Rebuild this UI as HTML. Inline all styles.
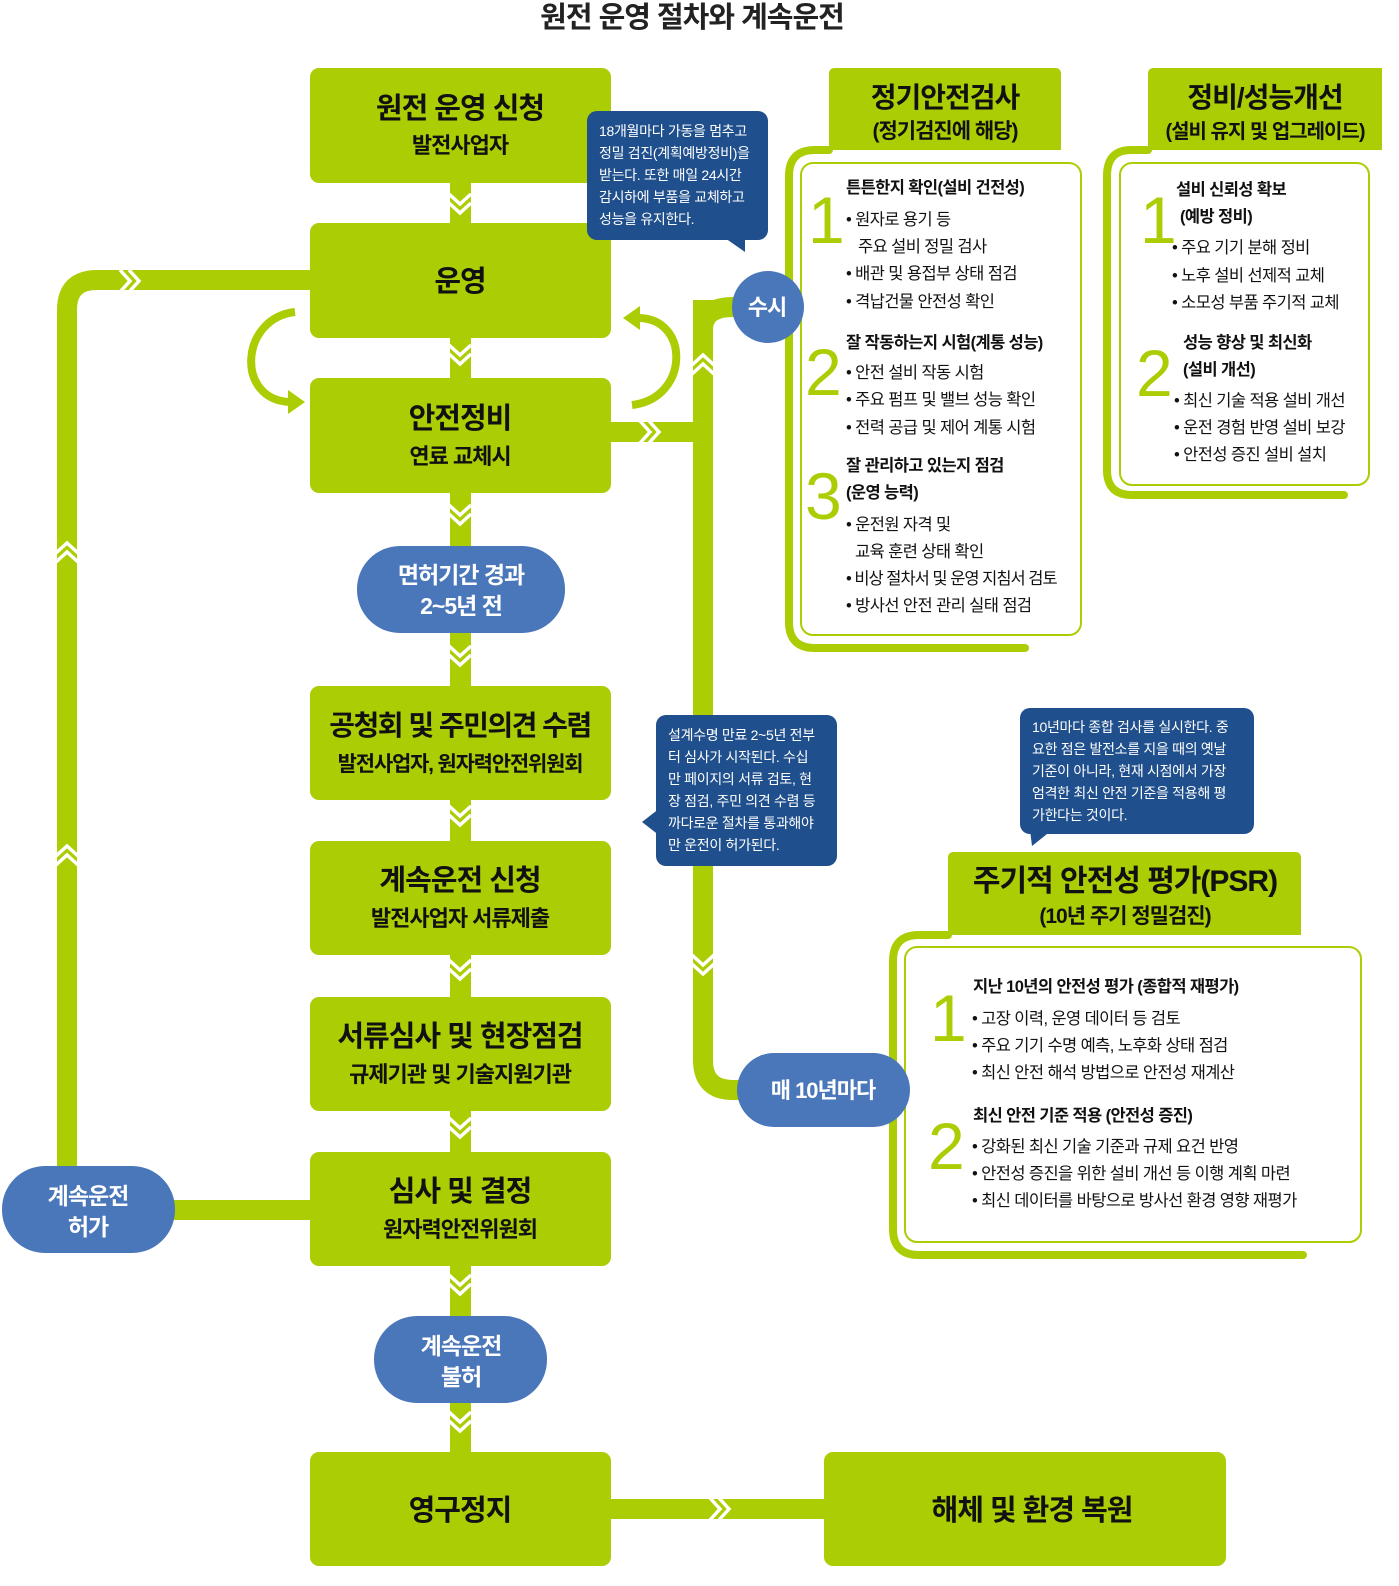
<!DOCTYPE html>
<html><head><meta charset="utf-8"><style>
html,body{margin:0;padding:0;background:#fff;overflow:hidden}
svg{display:block}
svg text{font-family:"Liberation Sans","Noto Sans CJK KR",sans-serif}
</style></head><body>
<svg width="1399" height="1586" viewBox="0 0 1399 1586" xmlns="http://www.w3.org/2000/svg">
<defs>
<g id="vch"><polyline points="-11,0 0,10 11,0" fill="none" stroke="#fff" stroke-width="3.5"/><polyline points="-11,9 0,19 11,9" fill="none" stroke="#fff" stroke-width="3.5"/></g>
<g id="uch"><polyline points="-11,10 0,0 11,10" fill="none" stroke="#fff" stroke-width="3.5"/><polyline points="-11,19 0,9 11,19" fill="none" stroke="#fff" stroke-width="3.5"/></g>
<g id="rch"><polyline points="0,-11 10,0 0,11" fill="none" stroke="#fff" stroke-width="3.5"/><polyline points="9,-11 19,0 9,11" fill="none" stroke="#fff" stroke-width="3.5"/></g>
</defs>
<g fill="#abcd03">
<rect x="450" y="180" width="21" height="1280"/>
<path d="M67 1210 L67 310 Q67 280 97 280 L320 280" fill="none" stroke="#abcd03" stroke-width="20"/>
<rect x="170" y="1200" width="145" height="20"/>
<path d="M703 300 L703 1060 Q703 1090 733 1090 L745 1090" fill="none" stroke="#abcd03" stroke-width="20"/>
<path d="M703 330 Q703 307 733 307 L745 307" fill="none" stroke="#abcd03" stroke-width="20"/>
<rect x="600" y="422" width="110" height="20"/>
<rect x="600" y="1499" width="230" height="20"/>
</g>
<path d="M295 312 C240 318 235 400 290 402" fill="none" stroke="#abcd03" stroke-width="8"/>
<polygon points="288,390 305,402 288,414" fill="#abcd03"/>
<path d="M632 405 C690 398 690 318 638 318" fill="none" stroke="#abcd03" stroke-width="8"/>
<polygon points="640,306 623,318 640,330" fill="#abcd03"/>
<use href="#vch" x="460" y="194"/><use href="#vch" x="460" y="345"/><use href="#vch" x="460" y="505"/><use href="#vch" x="460" y="646"/>
<use href="#vch" x="460" y="806"/><use href="#vch" x="460" y="960"/><use href="#vch" x="460" y="1118"/><use href="#vch" x="460" y="1275"/><use href="#vch" x="460" y="1412"/>
<use href="#rch" x="120" y="281"/><use href="#uch" x="67" y="543"/><use href="#uch" x="67" y="846"/>
<use href="#uch" x="703" y="355"/><use href="#vch" x="703" y="955"/>
<use href="#rch" x="640" y="432"/><use href="#rch" x="710" y="1509"/>

<text x="692" y="27" font-size="29" font-weight="bold" text-anchor="middle" fill="#222" letter-spacing="-1">원전 운영 절차와 계속운전</text>

<g fill="#abcd03">
<rect x="310" y="68" width="301" height="115" rx="9"/>
<rect x="310" y="223" width="301" height="115" rx="9"/>
<rect x="310" y="378" width="301" height="115" rx="9"/>
<rect x="310" y="686" width="301" height="114" rx="9"/>
<rect x="310" y="841" width="301" height="114" rx="9"/>
<rect x="310" y="997" width="301" height="114" rx="9"/>
<rect x="310" y="1152" width="301" height="114" rx="9"/>
<rect x="310" y="1452" width="301" height="114" rx="9"/>
<rect x="824" y="1452" width="402" height="114" rx="9"/>
</g>
<g fill="#111" text-anchor="middle" font-weight="bold" letter-spacing="-1">
<text x="460" y="118" font-size="29">원전 운영 신청</text><text x="460" y="153" font-size="22">발전사업자</text>
<text x="460" y="291" font-size="29">운영</text>
<text x="460" y="428" font-size="29">안전정비</text><text x="460" y="464" font-size="22">연료 교체시</text>
<text x="460" y="735" font-size="28" letter-spacing="-1.5">공청회 및 주민의견 수렴</text><text x="460" y="771" font-size="21" letter-spacing="-1.2">발전사업자, 원자력안전위원회</text>
<text x="460" y="890" font-size="29">계속운전 신청</text><text x="460" y="926" font-size="22">발전사업자 서류제출</text>
<text x="460" y="1046" font-size="29">서류심사 및 현장점검</text><text x="460" y="1082" font-size="22">규제기관 및 기술지원기관</text>
<text x="460" y="1201" font-size="29">심사 및 결정</text><text x="460" y="1237" font-size="22">원자력안전위원회</text>
<text x="460" y="1520" font-size="29">영구정지</text>
<text x="1032" y="1520" font-size="29">해체 및 환경 복원</text>
</g>

<g fill="#1f4f8c">
<rect x="587" y="111" width="181" height="129" rx="10"/><polygon points="725,238 745,238 745,252"/>
<rect x="656" y="715" width="181" height="151" rx="10"/><polygon points="660,808 642,822 660,836"/>
<rect x="1020" y="708" width="234" height="126" rx="10"/><polygon points="1030,830 1052,830 1032,846"/>
</g>
<g fill="#fff" font-size="14" letter-spacing="-0.3">
<text x="599" y="136">18개월마다 가동을 멈추고</text>
<text x="599" y="158">정밀 검진(계획예방정비)을</text>
<text x="599" y="180">받는다. 또한 매일 24시간</text>
<text x="599" y="202">감시하에 부품을 교체하고</text>
<text x="599" y="224">성능을 유지한다.</text>
<text x="668" y="740">설계수명 만료 2~5년 전부</text>
<text x="668" y="762">터 심사가 시작된다. 수십</text>
<text x="668" y="784">만 페이지의 서류 검토, 현</text>
<text x="668" y="806">장 점검, 주민 의견 수렴 등</text>
<text x="668" y="828">까다로운 절차를 통과해야</text>
<text x="668" y="850">만 운전이 허가된다.</text>
<text x="1032" y="732">10년마다 종합 검사를 실시한다. 중</text>
<text x="1032" y="754">요한 점은 발전소를 지을 때의 옛날</text>
<text x="1032" y="776">기준이 아니라, 현재 시점에서 가장</text>
<text x="1032" y="798">엄격한 최신 안전 기준을 적용해 평</text>
<text x="1032" y="820">가한다는 것이다.</text>
</g>

<path d="M829 74 Q829 68 835 68 L1055 68 Q1061 68 1061 74 L1061 150 L829 150 Z" fill="#abcd03"/>
<path d="M829 150 L815 150 Q789 150 789 176 L789 622 Q789 648 815 648 L1025 648" fill="none" stroke="#abcd03" stroke-width="8" stroke-linecap="round"/>
<rect x="801" y="163" width="280" height="472" rx="12" fill="#fff" stroke="#abcd03" stroke-width="2"/>
<text x="945" y="107" font-size="28" font-weight="bold" text-anchor="middle" fill="#111" letter-spacing="-1">정기안전검사</text>
<text x="945" y="138" font-size="21" font-weight="bold" text-anchor="middle" fill="#111" letter-spacing="-1">(정기검진에 해당)</text>
<path d="M1148 74 Q1148 68 1154 68 L1382 68 L1382 150 L1148 150 Z" fill="#abcd03"/>
<path d="M1148 150 L1131 150 Q1107 150 1107 176 L1107 470 Q1107 495 1132 495 L1344 495" fill="none" stroke="#abcd03" stroke-width="8" stroke-linecap="round"/>
<rect x="1120" y="163" width="249" height="322" rx="12" fill="#fff" stroke="#abcd03" stroke-width="2"/>
<text x="1265" y="107" font-size="28" font-weight="bold" text-anchor="middle" fill="#111" letter-spacing="-1">정비/성능개선</text>
<text x="1265" y="138" font-size="20" font-weight="bold" text-anchor="middle" fill="#111" letter-spacing="-1">(설비 유지 및 업그레이드)</text>
<path d="M948 858 Q948 852 954 852 L1295 852 Q1301 852 1301 858 L1301 935 L948 935 Z" fill="#abcd03"/>
<path d="M948 935 L919 935 Q893 935 893 961 L893 1229 Q893 1255 919 1255 L1303 1255" fill="none" stroke="#abcd03" stroke-width="8" stroke-linecap="round"/>
<rect x="905" y="947" width="456" height="295" rx="12" fill="#fff" stroke="#abcd03" stroke-width="2"/>
<text x="1125" y="891" font-size="30" font-weight="bold" text-anchor="middle" fill="#111" letter-spacing="-1">주기적 안전성 평가(PSR)</text>
<text x="1125" y="923" font-size="21" font-weight="bold" text-anchor="middle" fill="#111" letter-spacing="-1">(10년 주기 정밀검진)</text>

<g fill="#4a76ba">
<rect x="357" y="546" width="208" height="87" rx="43"/>
<rect x="374" y="1316" width="173" height="87" rx="43"/>
<rect x="2" y="1166" width="173" height="87" rx="43"/>
<circle cx="768" cy="307" r="36"/>
<rect x="737" y="1053" width="173" height="74" rx="37"/>
</g>
<g fill="#fff" text-anchor="middle" font-weight="bold" font-size="23" letter-spacing="-1">
<text x="461" y="583">면허기간 경과</text><text x="461" y="614">2~5년 전</text>
<text x="461" y="1354">계속운전</text><text x="461" y="1385">불허</text>
<text x="88" y="1204">계속운전</text><text x="88" y="1235">허가</text>
<text x="767" y="315" font-size="22">수시</text>
<text x="823" y="1098" font-size="22">매 10년마다</text>
</g>

<g fill="#abcd03" font-size="66" font-family="Liberation Sans, sans-serif">
<text x="808" y="243">1</text><text x="805" y="395">2</text><text x="805" y="519">3</text>
<text x="1140" y="243">1</text><text x="1136" y="396">2</text>
<text x="930" y="1041">1</text><text x="928" y="1169">2</text>
</g>
<g fill="#111" font-size="16.5" letter-spacing="-0.6">
<text x="846" y="193" font-weight="bold">튼튼한지 확인(설비 건전성)</text>
<text x="846" y="225">• 원자로 용기 등</text>
<text x="858" y="252">주요 설비 정밀 검사</text>
<text x="846" y="279">• 배관 및 용접부 상태 점검</text>
<text x="846" y="307">• 격납건물 안전성 확인</text>
<text x="846" y="348" font-weight="bold">잘 작동하는지 시험(계통 성능)</text>
<text x="846" y="378">• 안전 설비 작동 시험</text>
<text x="846" y="405">• 주요 펌프 및 밸브 성능 확인</text>
<text x="846" y="433">• 전력 공급 및 제어 계통 시험</text>
<text x="846" y="471" font-weight="bold">잘 관리하고 있는지 점검</text>
<text x="846" y="498" font-weight="bold">(운영 능력)</text>
<text x="846" y="530">• 운전원 자격 및</text>
<text x="855" y="557">교육 훈련 상태 확인</text>
<text x="846" y="584" letter-spacing="-1">• 비상 절차서 및 운영 지침서 검토</text>
<text x="846" y="611">• 방사선 안전 관리 실태 점검</text>

<text x="1176" y="195" font-weight="bold">설비 신뢰성 확보</text>
<text x="1180" y="222" font-weight="bold">(예방 정비)</text>
<text x="1172" y="253">• 주요 기기 분해 정비</text>
<text x="1172" y="281">• 노후 설비 선제적 교체</text>
<text x="1172" y="308">• 소모성 부품 주기적 교체</text>
<text x="1183" y="348" font-weight="bold">성능 향상 및 최신화</text>
<text x="1183" y="375" font-weight="bold">(설비 개선)</text>
<text x="1174" y="406">• 최신 기술 적용 설비 개선</text>
<text x="1174" y="433">• 운전 경험 반영 설비 보강</text>
<text x="1174" y="460">• 안전성 증진 설비 설치</text>

<text x="973" y="992" font-weight="bold">지난 10년의 안전성 평가 (종합적 재평가)</text>
<text x="972" y="1024">• 고장 이력, 운영 데이터 등 검토</text>
<text x="972" y="1051">• 주요 기기 수명 예측, 노후화 상태 점검</text>
<text x="972" y="1078">• 최신 안전 해석 방법으로 안전성 재계산</text>
<text x="973" y="1121" font-weight="bold">최신 안전 기준 적용 (안전성 증진)</text>
<text x="972" y="1152">• 강화된 최신 기술 기준과 규제 요건 반영</text>
<text x="972" y="1179">• 안전성 증진을 위한 설비 개선 등 이행 계획 마련</text>
<text x="972" y="1206">• 최신 데이터를 바탕으로 방사선 환경 영향 재평가</text>
</g>
</svg>
</body></html>
